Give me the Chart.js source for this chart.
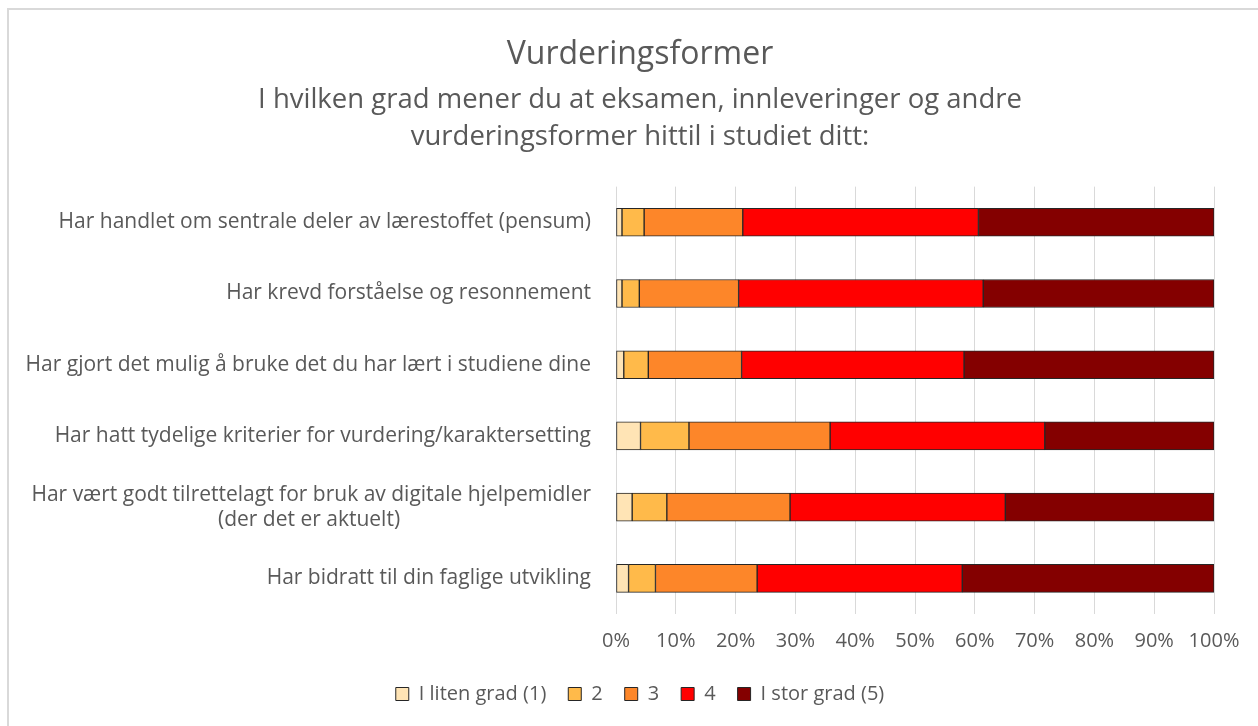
<!DOCTYPE html>
<html>
<head>
<meta charset="utf-8">
<script src="https://cdn.jsdelivr.net/npm/chart.js@4"></script>
<style>
  html, body { margin: 0; padding: 0; background: #fff; overflow: hidden; }
  #wrap { position: relative; width: 1258px; height: 726px; }
  #frame { position: absolute; left: 7px; top: 8px; width: 1300px; height: 800px; border: 2px solid #d9d9d9; pointer-events: none; }
</style>
</head>
<body>
<div id="wrap">
  <canvas id="chart" width="1258" height="726"></canvas>
  <div id="frame"></div>
</div>
<script>
const categories = [
  'Har handlet om sentrale deler av lærestoffet (pensum)',
  'Har krevd forståelse og resonnement',
  'Har gjort det mulig å bruke det du har lært i studiene dine',
  'Har hatt tydelige kriterier for vurdering/karaktersetting',
  ['Har vært godt tilrettelagt for bruk av digitale hjelpemidler', '(der det er aktuelt)'],
  'Har bidratt til din faglige utvikling'
];

const seriesNames = ['I liten grad (1)', '2', '3', '4', 'I stor grad (5)'];

// percent per answer, one array per series
const grad1 = [1.0, 1.0, 1.3, 4.1, 2.7, 2.1];
const grad2 = [3.7, 2.9, 4.1, 8.1, 5.8, 4.5];
const grad3 = [16.5, 16.6, 15.6, 23.6, 20.6, 17.0];
const grad4 = [39.4, 40.9, 37.2, 35.9, 36.0, 34.3];
const grad5 = [39.4, 38.6, 41.8, 28.3, 34.9, 42.1];

const colors = ['#FFE4B5', '#FFBA4A', '#FD8629', '#FF0000', '#840000'];
const textColor = '#595959';
const fontFamily = '"Open Sans", Lato, sans-serif';
const labelSize = 21;

// centre the second line of a two-line label under the first
const measureCtx = document.createElement('canvas').getContext('2d');
measureCtx.font = labelSize + 'px ' + fontFamily;
function centerLines(lbl) {
  if (!Array.isArray(lbl)) return lbl;
  const w0 = measureCtx.measureText(lbl[0]).width;
  return lbl.map((line) => {
    const w = measureCtx.measureText(line).width;
    const sp = measureCtx.measureText('\u00a0').width;
    const n = Math.round((w0 - w) / 2 / sp);
    return line + '\u00a0'.repeat(Math.max(0, n));
  });
}

const data = [grad1, grad2, grad3, grad4, grad5];

new Chart(document.getElementById('chart'), {
  type: 'bar',
  data: {
    labels: categories,
    datasets: seriesNames.map((name, i) => ({
      label: name,
      data: data[i],
      backgroundColor: colors[i],
      borderColor: '#262626',
      borderWidth: 1,
      borderSkipped: false,
      barThickness: 28
    }))
  },
  options: {
    indexAxis: 'y',
    responsive: false,
    animation: false,
    layout: { padding: { left: 22, right: 0, top: 0, bottom: 12 } },
    plugins: {
      title: {
        display: true,
        text: 'Vurderingsformer',
        color: textColor,
        font: { family: fontFamily, size: 32, weight: 'normal' },
        padding: { top: 36, bottom: 0 }
      },
      subtitle: {
        display: true,
        text: ['I hvilken grad mener du at eksamen, innleveringer og andre', 'vurderingsformer hittil i studiet ditt:'],
        color: textColor,
        font: { family: fontFamily, size: 27.5, lineHeight: 1.35 },
        padding: { top: 7, bottom: 31 }
      },
      legend: {
        position: 'bottom',
        labels: {
          color: textColor,
          font: { family: fontFamily, size: 20 },
          boxWidth: 13,
          boxHeight: 13,
          padding: 22
        }
      },
      tooltip: { enabled: false }
    },
    scales: {
      x: {
        stacked: true,
        min: 0,
        max: 100,
        ticks: {
          stepSize: 10,
          color: textColor,
          font: { family: fontFamily, size: 20 },
          padding: 15,
          callback: (v) => v + '%'
        },
        grid: { color: '#d9d9d9', lineWidth: 1, drawTicks: false },
        border: { display: false },
        afterFit: (scale) => { scale.height = 48; }
      },
      y: {
        stacked: true,
        ticks: {
          color: textColor,
          font: { family: fontFamily, size: labelSize },
          padding: 17,
          callback: function (v, i) { return centerLines(categories[i]); }
        },
        grid: { display: false },
        border: { display: false },
        afterFit: (scale) => { scale.width = 616 - 22; }
      },
      // empty right-hand axis keeping the plot clear of the right edge
      yRight: {
        type: 'category',
        position: 'right',
        ticks: { display: false },
        grid: { display: false },
        border: { display: false },
        afterFit: (scale) => { scale.width = 44; }
      }
    }
  }
});
</script>
</body>
</html>
